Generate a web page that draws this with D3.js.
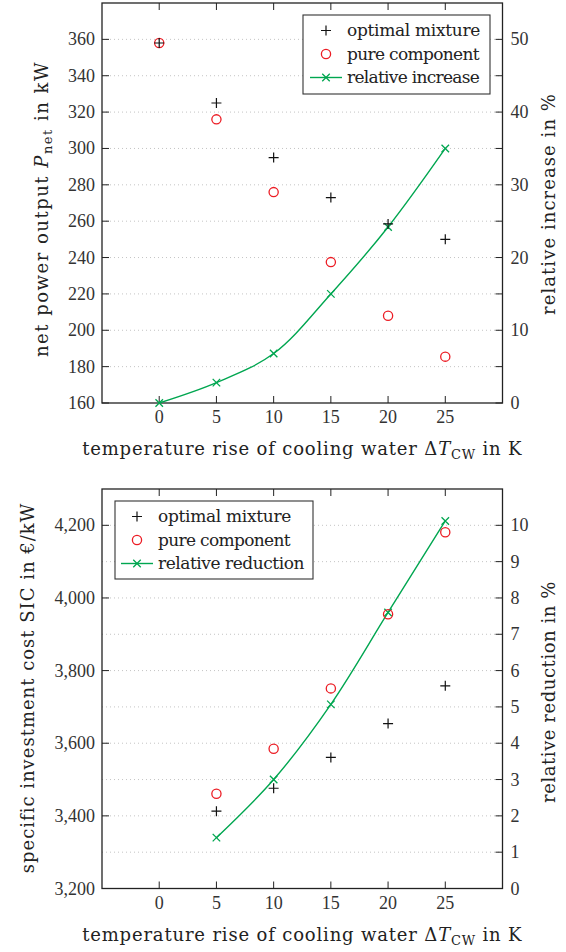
<!DOCTYPE html>
<html>
<head>
<meta charset="utf-8">
<script src="https://cdn.jsdelivr.net/npm/d3@7"></script>
<style>
  body { margin: 0; background: #fff; }
</style>
</head>
<body>
<svg width="566" height="952"></svg>
<script>
// data
const xTemp = [0, 5, 10, 15, 20, 25];
const powerOptimal = [358, 325, 295, 273, 258.5, 250];
const powerPure = [358, 316, 276, 237.5, 208, 185.5];
const powerIncrease = [0, 2.8, 6.8, 15.0, 24.2, 35.0];

const xTempSic = [5, 10, 15, 20, 25];
const sicOptimal = [3413, 3476, 3561, 3654, 3758];
const sicPure = [3461, 3585, 3751, 3955, 4181];
const sicReduction = [1.4, 3.0, 5.07, 7.6, 10.12];

const xTicks = [0, 5, 10, 15, 20, 25];
const powerTicks = [160, 180, 200, 220, 240, 260, 280, 300, 320, 340, 360];
const increaseTicks = [0, 5, 10, 15, 20, 25, 30, 35, 40, 45, 50];
const increaseLabels = [0, 10, 20, 30, 40, 50];
const sicTicks = [3200, 3400, 3600, 3800, 4000, 4200];
const sicGrid = [3300, 3400, 3500, 3600, 3700, 3800, 3900, 4000, 4100, 4200];
const reductionTicks = [0, 1, 2, 3, 4, 5, 6, 7, 8, 9, 10];

const legendTop = ["optimal mixture", "pure component", "relative increase"];
const legendBottom = ["optimal mixture", "pure component", "relative reduction"];

const RED = "#ec1c24";
const GREEN = "#00a650";
const FS = 18;
const TICKFONT = "'Liberation Serif', 'Times New Roman', serif";
const LABELFONT = "'DejaVu Serif', serif";

const svg = d3.select("svg");

// nudge spacing so the label spans what it spans in the original
const fit = (t, target) => {
  const len = t.node().getComputedTextLength();
  const n = t.text().length;
  if (n > 1) t.style("letter-spacing", ((target - len) / n).toFixed(2) + "px");
  return t;
};

const drawPanel = (p) => {
  const g = svg.append("g");
  const x = d3.scaleLinear().domain([-5, 30]).range([102, 502.5]);
  const y = d3.scaleLinear().domain(p.yDomain).range([p.bottom, p.top]);
  const y2 = d3.scaleLinear().domain(p.y2Domain).range([p.bottom, p.top]);

  // dotted grid
  g.selectAll(".grid")
    .data(p.grid)
    .enter()
    .append("line")
    .attr("x1", x(-5)).attr("x2", x(30))
    .attr("y1", (d) => y(d)).attr("y2", (d) => y(d))
    .style("stroke", "#b5b5b5")
    .style("stroke-width", 0.8)
    .style("stroke-dasharray", "1,3");

  // ticks pointing inward
  const tl = 7;
  xTicks.forEach((t) => {
    g.append("line").attr("x1", x(t)).attr("x2", x(t))
      .attr("y1", p.bottom).attr("y2", p.bottom - tl).style("stroke", "#222");
    g.append("line").attr("x1", x(t)).attr("x2", x(t))
      .attr("y1", p.top).attr("y2", p.top + tl).style("stroke", "#222");
  });
  p.yTicks.forEach((t) => {
    g.append("line").attr("x1", x(-5)).attr("x2", x(-5) + tl)
      .attr("y1", y(t)).attr("y2", y(t)).style("stroke", "#222");
  });
  p.y2Ticks.forEach((t) => {
    g.append("line").attr("x1", x(30)).attr("x2", x(30) - tl)
      .attr("y1", y2(t)).attr("y2", y2(t)).style("stroke", "#222");
  });

  // frame
  g.append("rect")
    .attr("x", x(-5)).attr("y", p.top)
    .attr("width", x(30) - x(-5)).attr("height", p.bottom - p.top)
    .style("fill", "none").style("stroke", "#222").style("stroke-width", 1.3);

  // tick labels
  g.selectAll(".xl").data(xTicks).enter().append("text")
    .attr("x", (d) => x(d)).attr("y", p.bottom + 20)
    .attr("text-anchor", "middle").style("font-family", TICKFONT)
    .style("font-size", FS + "px").style("fill", "#333")
    .text((d) => d);
  g.selectAll(".yl").data(p.yTicks).enter().append("text")
    .attr("x", x(-5) - 7).attr("y", (d) => y(d) + 6)
    .attr("text-anchor", "end").style("font-family", TICKFONT)
    .style("font-size", FS + "px").style("fill", "#333")
    .text((d) => p.yFormat(d));
  g.selectAll(".y2l").data(p.y2Labels).enter().append("text")
    .attr("x", x(30) + 8).attr("y", (d) => y2(d) + 6)
    .attr("text-anchor", "start").style("font-family", TICKFONT)
    .style("font-size", FS + "px").style("fill", "#333")
    .text((d) => d);

  // x title
  const xt = g.append("text")
    .attr("x", (x(-5) + x(30)) / 2).attr("y", p.bottom + 52)
    .attr("text-anchor", "middle").style("font-family", LABELFONT)
    .style("font-size", "18px").style("fill", "#222");
  xt.append("tspan").text("temperature rise of cooling water Δ");
  xt.append("tspan").style("font-style", "italic").text("T");
  xt.append("tspan").attr("dy", 4).style("font-size", "13px").text("CW");
  xt.append("tspan").attr("dy", -4).text(" in K");
  fit(xt, 440);

  // y titles
  const yt = g.append("text")
    .attr("transform", "translate(" + p.yTitleX + "," + p.yTitleY + ") rotate(-90)")
    .attr("text-anchor", "middle").style("font-family", LABELFONT)
    .style("font-size", "18px").style("fill", "#222");
  p.yTitle(yt);
  fit(yt, p.yTitleLen);
  const yt2 = g.append("text")
    .attr("transform", "translate(" + 555 + "," + p.y2TitleY + ") rotate(-90)")
    .attr("text-anchor", "middle").style("font-family", LABELFONT)
    .style("font-size", "18px").style("fill", "#222")
    .text(p.y2Title);
  fit(yt2, 222);

  // series
  const pts = p.xs.map((d, i) => ({ x: d, a: p.optimal[i], b: p.pure[i], c: p.rel[i] }));

  const line = d3.line().x((d) => x(d.x)).y((d) => y2(d.c)).curve(d3.curveCatmullRom);
  g.append("path").datum(pts).attr("d", line)
    .style("fill", "none").style("stroke", GREEN).style("stroke-width", 1.4);

  const cross = (sel, cx, cy2, s, color, diag) => {
    const k = diag ? s * 0.75 : s;
    if (diag) {
      sel.append("path").attr("d", `M${cx - k},${cy2 - k}L${cx + k},${cy2 + k}M${cx - k},${cy2 + k}L${cx + k},${cy2 - k}`)
        .style("stroke", color).style("stroke-width", 1.3);
    } else {
      sel.append("path").attr("d", `M${cx - k},${cy2}L${cx + k},${cy2}M${cx},${cy2 - k}L${cx},${cy2 + k}`)
        .style("stroke", color).style("stroke-width", 1.2);
    }
  };

  pts.forEach((d) => cross(g, x(d.x), y2(d.c), 5, GREEN, true));

  g.selectAll(".pure").data(pts).enter().append("circle")
    .attr("cx", (d) => x(d.x)).attr("cy", (d) => y(d.b)).attr("r", 4.6)
    .style("fill", "none").style("stroke", RED).style("stroke-width", 1.3);

  pts.forEach((d) => cross(g, x(d.x), y(d.a), 5, "#111", false));

  // legend
  const L = p.legend;
  g.append("rect").attr("x", L.x).attr("y", L.y).attr("width", L.w).attr("height", L.h)
    .style("fill", "#fff").style("stroke", "#333").style("stroke-width", 1.1);
  const rowY = (i) => L.y + 15.5 + i * 23.5;
  const mx = L.x + L.mark;
  cross(g, mx, rowY(0), 5, "#111", false);
  g.append("circle").attr("cx", mx).attr("cy", rowY(1)).attr("r", 4.6)
    .style("fill", "none").style("stroke", RED).style("stroke-width", 1.3);
  g.append("line").attr("x1", mx - 16).attr("x2", mx + 16).attr("y1", rowY(2)).attr("y2", rowY(2))
    .style("stroke", GREEN).style("stroke-width", 1.4);
  cross(g, mx, rowY(2), 5, GREEN, true);
  L.labels.forEach((t, i) => {
    const lt = g.append("text").attr("x", mx + 21).attr("y", rowY(i) + 5.5)
      .style("font-family", LABELFONT)
      .style("font-size", "17px").style("fill", "#222").text(t);
    fit(lt, L.lens[i]);
  });
};

drawPanel({
  top: 3, bottom: 403,
  yDomain: [160, 380], y2Domain: [0, 55],
  yTicks: powerTicks, grid: powerTicks.slice(1),
  y2Ticks: increaseTicks, y2Labels: increaseLabels,
  yFormat: (d) => d,
  yTitleX: 48, yTitleY: 209, yTitleLen: 296,
  yTitle: (t) => {
    t.append("tspan").text("net power output ");
    t.append("tspan").style("font-style", "italic").text("P");
    t.append("tspan").attr("dy", 4).style("font-size", "13px").text("net");
    t.append("tspan").attr("dy", -4).text(" in kW");
  },
  y2TitleY: 204,
  y2Title: "relative increase in %",
  xs: xTemp, optimal: powerOptimal, pure: powerPure, rel: powerIncrease,
  legend: { x: 303, y: 15, w: 187, h: 79, mark: 23, labels: legendTop, lens: [133, 132, 132] },
});

drawPanel({
  top: 489, bottom: 888.5,
  yDomain: [3200, 4300], y2Domain: [0, 11],
  yTicks: sicTicks, grid: sicGrid,
  y2Ticks: reductionTicks, y2Labels: reductionTicks,
  yFormat: d3.format(","),
  yTitleX: 34, yTitleY: 688, yTitleLen: 370,
  yTitle: (t) => t.text("specific investment cost SIC in €/kW"),
  y2TitleY: 692,
  y2Title: "relative reduction in %",
  xs: xTempSic, optimal: sicOptimal, pure: sicPure, rel: sicReduction,
  legend: { x: 115, y: 501, w: 198, h: 78, mark: 22, labels: legendBottom, lens: [133, 132, 146] },
});
</script>
</body>
</html>
